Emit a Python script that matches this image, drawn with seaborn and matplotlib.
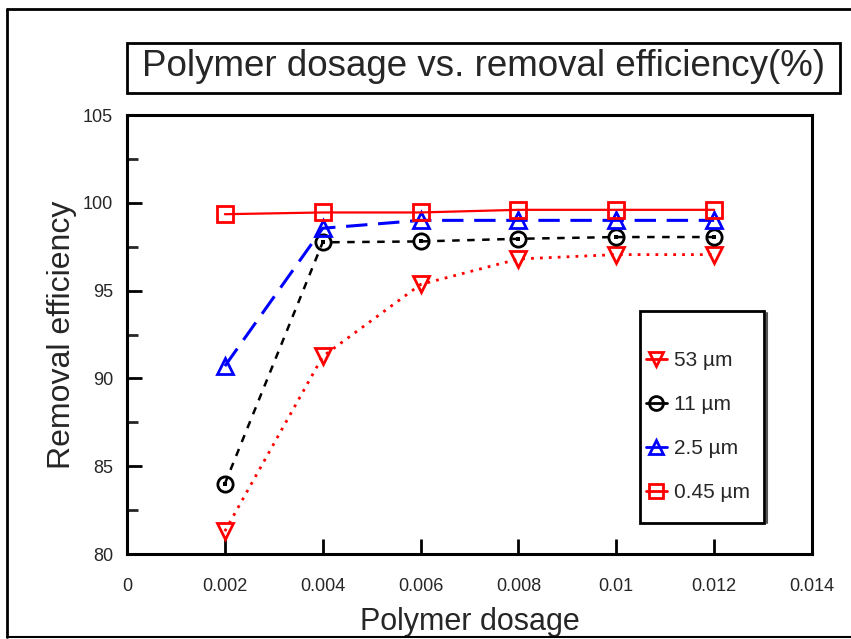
import matplotlib
matplotlib.use("Agg")
import matplotlib.pyplot as plt
import seaborn as sns
import pandas as pd
from matplotlib.patches import Rectangle
from matplotlib.lines import Line2D

dosage = [0.002, 0.004, 0.006, 0.008, 0.010, 0.012]
eff_53 = [81.3, 91.25, 95.35, 96.8, 97.05, 97.05]
eff_11 = [84.0, 97.75, 97.8, 97.95, 98.05, 98.05]
eff_2_5 = [90.7, 98.55, 99.0, 99.0, 99.0, 99.0]
eff_045 = [99.35, 99.45, 99.45, 99.6, 99.6, 99.6]
labels = ["53 µm", "11 µm", "2.5 µm", "0.45 µm"]
x_ticks = [0, 0.002, 0.004, 0.006, 0.008, 0.01, 0.012, 0.014]
x_ticklabels = ["0", "0.002", "0.004", "0.006", "0.008", "0.01", "0.012", "0.014"]
y_ticks = [80, 85, 90, 95, 100, 105]

sns.set_style("white")
plt.rcParams['font.family'] = ['Liberation Sans', 'DejaVu Sans']

W, H = 851, 639
fig = plt.figure(figsize=(W/100, H/100), dpi=100)
ax = fig.add_axes([127/W, 1-554/H, (812-127)/W, (554-115)/H])

styles = [
    (eff_53, "red", "v", (0, (1, 2.2)), 2.0),
    (eff_11, "black", "o", (0, (3, 3)), 1.8),
    (eff_2_5, "blue", "^", (0, (7, 3.5)), 2.2),
    (eff_045, "red", "s", "-", 1.6),
]
handles = []
for (vals, color, marker, ls, lw), lab in zip(styles, labels):
    df = pd.DataFrame({"dosage": dosage, "eff": vals})
    sns.lineplot(data=df, x="dosage", y="eff", ax=ax, color=color, linestyle=ls,
                 linewidth=lw, marker=marker, markersize=11, markerfacecolor="none",
                 markeredgecolor=color, markeredgewidth=2.0, legend=False)
    handles.append(Line2D([0], [0], color=color, marker=marker, markersize=10,
                          markerfacecolor="none", markeredgecolor=color,
                          markeredgewidth=2, linewidth=2, linestyle="-"))
# centre dot of 11 µm markers
sns.scatterplot(x=dosage, y=eff_11, ax=ax, color="black", marker="s", s=8, linewidth=0,
                legend=False, zorder=5)

ax.set_xlim(0, 0.014)
ax.set_ylim(80, 105)
ax.set_xticks(x_ticks)
ax.set_xticklabels(x_ticklabels)
ax.set_yticks(y_ticks)
ax.set_yticks([82.5, 87.5, 92.5, 97.5, 102.5], minor=True)
ax.tick_params(axis="both", which="major", direction="in", length=11, width=2,
               labelsize=13, top=False, right=False, bottom=True, left=True, pad=10, color="black")
ax.tick_params(axis="y", which="minor", direction="in", length=8, width=2, left=True)
ax.tick_params(axis="x", pad=17)
for s in ax.spines.values():
    s.set_linewidth(2.2)
    s.set_color("black")
ax.set_xlabel("Polymer dosage", fontsize=22, labelpad=9)
ax.set_ylabel("Removal efficiency", fontsize=23, labelpad=4)

# legend (frame drawn separately)
leg = ax.legend(handles, labels, loc="upper left",
                bbox_to_anchor=((646-127)/685, (554-351)/439),
                fontsize=15, frameon=False, handlelength=1.0,
                handletextpad=0.35, labelspacing=1.2, borderpad=0, borderaxespad=0)
fig.patches.append(Rectangle((640/W, 1-523/H), (764-640)/W, (523-311)/H, transform=fig.transFigure,
                             fill=True, facecolor="none", edgecolor="black", linewidth=2, zorder=10))
fig.add_artist(Line2D([767/W, 767/W], [1-313/H, 1-523/H], transform=fig.transFigure,
                      color="#555555", lw=1.5))

# title box
fig.patches.append(Rectangle((127/W, 1-93/H), (840-127)/W, 50/H, transform=fig.transFigure,
                             fill=False, edgecolor="black", linewidth=2))
fig.text((127+840)/2/W, 1-66/H, "Polymer dosage vs. removal efficiency(%)",
         ha="center", va="center", fontsize=26.5)

# outer border
fig.add_artist(Line2D([7/W, 7/W], [1-9/H, 1-637/H], transform=fig.transFigure, color="black", lw=2))
fig.add_artist(Line2D([7/W, 1.0], [1-9/H, 1-9/H], transform=fig.transFigure, color="black", lw=2))
fig.add_artist(Line2D([7/W, 1.0], [1-637/H, 1-637/H], transform=fig.transFigure, color="black", lw=1.5))

fig.savefig("out.png", dpi=100)
